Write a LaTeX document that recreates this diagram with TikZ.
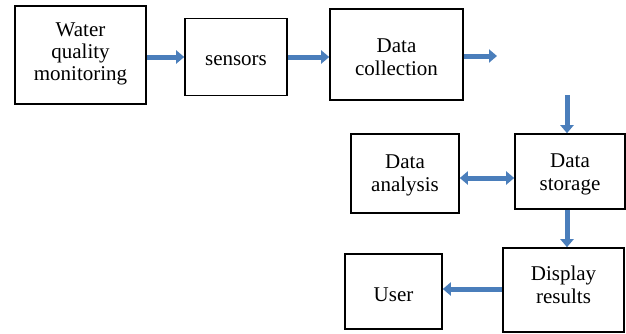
\documentclass[tikz,border=0pt]{standalone}
\usepackage{fontspec}
\newfontfamily\blockfont{Liberation Serif}
\usetikzlibrary{arrows.meta}
\definecolor{flowblue}{HTML}{4A7EBB}
% drop = distance of the last baseline below the box centre
\tikzset{
  box/.style={draw=black, line width=1.6pt, rectangle, align=center,
    font=\blockfont\fontsize{21}{23}\selectfont, inner sep=0pt},
  drop/.style={text depth=5pt, text height={2*#1+5pt}},
  flow/.style={draw=flowblue, line width=5pt,
    -{Triangle[width=13pt,length=8pt]}},
  biflow/.style={draw=flowblue, line width=5pt,
    {Triangle[width=13pt,length=8pt]}-{Triangle[width=13pt,length=8pt]}}
}
\begin{document}
\begin{tikzpicture}[x=1pt,y=-1pt]
\useasboundingbox (0,0) rectangle (626,333);
% process blocks
\node[box, drop=25pt, font=\blockfont\fontsize{21}{22}\selectfont,
      minimum width=131pt, minimum height=98pt] (water) at (80.5,55) {Water\\quality\\monitoring};
\node[box, drop=8pt, minimum width=102pt, minimum height=77pt] (sensors) at (236,57) {sensors};
\node[box, drop=20.5pt, minimum width=133pt, minimum height=91pt] (collection) at (396.5,54.5) {Data\\collection};
\node[box, drop=18pt, minimum width=108pt, minimum height=79pt] (analysis) at (405,173.5) {Data\\analysis};
\node[box, drop=18.5pt, minimum width=110pt, minimum height=75pt] (storage) at (570,171.5) {Data\\storage};
\node[box, drop=10pt, minimum width=97pt, minimum height=75pt] (user) at (393.5,291.5) {User};
\node[box, drop=13pt, minimum width=121pt, minimum height=84pt] (display) at (563.5,290) {Display\\results};
% loose ends of the split arrow
\coordinate (outend) at (497,56);
\coordinate (instart) at (567,95);
% connectors
\draw[flow] (water.east |- 0,57) -- (sensors.west |- 0,57);
\draw[flow] (sensors.east |- 0,57) -- (collection.west |- 0,57);
\draw[flow] (collection.east |- outend) -- (outend);
\draw[flow] (instart) -- (instart |- storage.north);
\draw[biflow] (analysis.east |- 0,178) -- (storage.west |- 0,178);
\draw[flow] (storage.south -| instart) -- (display.north -| instart);
\draw[flow] (display.west |- 0,289) -- (user.east |- 0,289);
\end{tikzpicture}
\end{document}
